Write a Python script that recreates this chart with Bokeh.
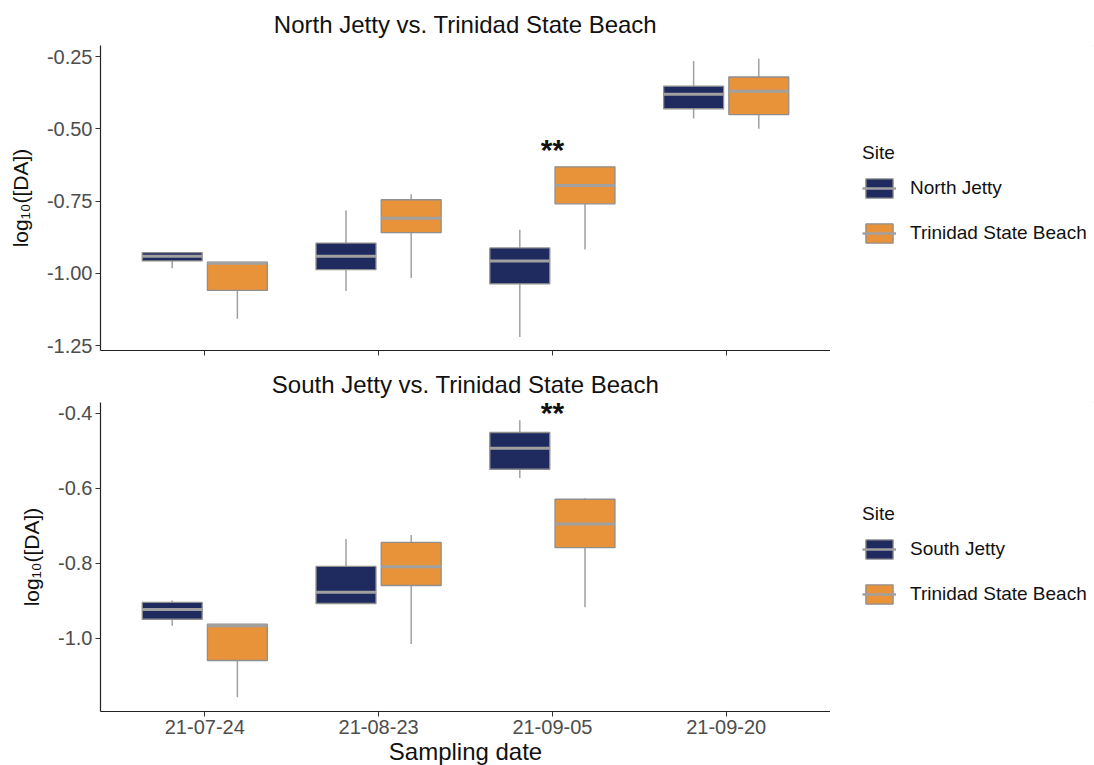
from bokeh.plotting import figure
from bokeh.layouts import column, row
from bokeh.models import (ColumnDataSource, Range1d, FixedTicker, NumeralTickFormatter,
                          Legend, LegendItem)
from bokeh.transform import dodge
from bokeh.core.properties import value
from bokeh.embed import file_html
from bokeh.resources import INLINE

# ---------------- data ----------------
dates = ["21-07-24", "21-08-23", "21-09-05", "21-09-20"]
date_pos = [1, 2, 3, 4]

# top panel: North Jetty vs Trinidad State Beach
nj_lower = [-0.982, -1.061, -1.220, -0.464]
nj_q1 = [-0.957, -0.987, -1.036, -0.430]
nj_med = [-0.941, -0.941, -0.957, -0.380]
nj_q3 = [-0.928, -0.895, -0.912, -0.352]
nj_upper = [-0.928, -0.782, -0.849, -0.265]

tsb_lower = [-1.157, -1.016, -0.917, -0.499]
tsb_q1 = [-1.059, -0.859, -0.759, -0.450]
tsb_med = [-0.965, -0.809, -0.696, -0.369]
tsb_q3 = [-0.961, -0.745, -0.631, -0.320]
tsb_upper = [-0.961, -0.726, -0.631, -0.257]

# bottom panel: South Jetty vs Trinidad State Beach
sj_pos = [1, 2, 3]
sj_lower = [-0.966, -0.907, -0.572]
sj_q1 = [-0.949, -0.907, -0.549]
sj_med = [-0.923, -0.877, -0.493]
sj_q3 = [-0.904, -0.808, -0.451]
sj_upper = [-0.899, -0.735, -0.418]

tsb2_lower = [-1.157, -1.015, -0.917]
tsb2_q1 = [-1.059, -0.859, -0.758]
tsb2_med = [-0.966, -0.809, -0.695]
tsb2_q3 = [-0.962, -0.744, -0.629]
tsb2_upper = [-0.962, -0.724, -0.626]

sig_top_x = [3]
sig_top_y = [-0.571]
sig_bot_x = [3]
sig_bot_y = [-0.397]

top_ticks = [-1.25, -1.00, -0.75, -0.50, -0.25]
bot_ticks = [-1.0, -0.8, -0.6, -0.4]

NAVY = "#1f2a5e"
ORANGE = "#e8923a"
GREY = "#a0a0a0"
FONT = "Liberation Sans"
OFF = 0.1875
BW = 0.345


def style(p, yticks, yfmt, show_xlabels):
    p.xgrid.visible = False
    p.ygrid.visible = False
    p.outline_line_color = None
    p.background_fill_color = "white"
    p.border_fill_color = "white"
    for ax in (p.xaxis[0], p.yaxis[0]):
        ax.axis_line_color = "#222222"
        ax.axis_line_width = 1.2
        ax.major_tick_line_color = "#333333"
        ax.major_tick_out = 5
        ax.major_tick_in = 0
        ax.minor_tick_line_color = None
        ax.major_label_text_font = FONT
        ax.major_label_text_font_size = "20px"
        ax.major_label_text_color = "#4d4d4d"
        ax.axis_label_text_font = FONT
        ax.axis_label_text_font_size = "24px"
        ax.axis_label_text_font_style = "normal"
        ax.axis_label_text_color = "#111111"
    p.yaxis[0].ticker = FixedTicker(ticks=yticks)
    p.yaxis[0].formatter = NumeralTickFormatter(format=yfmt)
    p.yaxis[0].axis_label = "log\u2081\u2080([DA])"
    p.yaxis[0].axis_label_text_font_size = "21px"
    p.yaxis[0].axis_label_standoff = 12
    p.yaxis[0].major_label_standoff = 3
    p.xaxis[0].ticker = FixedTicker(ticks=date_pos)
    if show_xlabels:
        p.xaxis[0].major_label_overrides = {pos: d for pos, d in zip(date_pos, dates)}
        p.xaxis[0].axis_label = "Sampling date"
        p.xaxis[0].major_label_standoff = 3
        p.xaxis[0].axis_label_standoff = 1
    else:
        p.xaxis[0].major_label_overrides = {pos: "" for pos in date_pos}
        p.xaxis[0].major_label_standoff = 0


def add_boxes(p, x, lower, q1, med, q3, upper, offset, color):
    src = ColumnDataSource(dict(x=x, lower=lower, q1=q1, med=med, q3=q3, upper=upper))
    xd = dodge("x", offset)
    p.segment(x0=xd, x1=xd, y0="q3", y1="upper", source=src, line_color=GREY, line_width=1.5)
    p.segment(x0=xd, x1=xd, y0="q1", y1="lower", source=src, line_color=GREY, line_width=1.5)
    p.vbar(x=xd, width=BW, top="q3", bottom="q1", source=src,
           fill_color=color, line_color="#8f8f8f", line_width=1.3)
    p.segment(x0=dodge("x", offset - BW / 2), x1=dodge("x", offset + BW / 2),
              y0="med", y1="med", source=src, line_color=GREY, line_width=3)


def set_title(p, text, standoff):
    p.title.text = text
    p.title.align = "center"
    p.title.text_font = FONT
    p.title.text_font_size = "24px"
    p.title.text_font_style = "normal"
    p.title.text_color = "#111111"
    p.title.standoff = standoff


def legend_fig(frame_h, b_top, b_bottom, labels, colors, y_loc):
    lf = figure(frame_width=264, frame_height=frame_h, output_backend="svg",
                toolbar_location=None, x_range=Range1d(0, 1), y_range=Range1d(0, 1),
                min_border_left=0, min_border_right=0,
                min_border_top=b_top, min_border_bottom=b_bottom)
    lf.xaxis.visible = False
    lf.yaxis.visible = False
    lf.xgrid.visible = False
    lf.ygrid.visible = False
    lf.outline_line_color = None
    items = []
    for lab, col in zip(labels, colors):
        # legend key sources: kept outside the visible range, only the key is shown
        src = ColumnDataSource(dict(x=[10], y0=[10], y1=[11], x0=[10], x1=[11]))
        b = lf.vbar(x="x", width=0.1, top="y1", bottom="y0", source=src,
                    fill_color=col, line_color="#8f8f8f", line_width=1.3)
        m = lf.segment(x0="x0", x1="x1", y0="y0", y1="y0", source=src,
                       line_color=GREY, line_width=2.5)
        items.append(LegendItem(label=lab, renderers=[b, m]))
    leg = Legend(items=items, title="Site", location=(32, y_loc))
    leg.title_text_font = FONT
    leg.title_text_font_size = "19px"
    leg.title_text_font_style = "normal"
    leg.title_text_color = "#111111"
    leg.title_standoff = 12
    leg.label_text_font = FONT
    leg.label_text_font_size = "19px"
    leg.label_text_color = "#111111"
    leg.glyph_width = 34
    leg.glyph_height = 24
    leg.label_height = 24
    leg.label_standoff = 14
    leg.spacing = 21
    leg.padding = 0
    leg.margin = 0
    leg.border_line_color = None
    leg.background_fill_alpha = 0
    lf.add_layout(leg, "center")
    return lf


# ---------------- top figure ----------------
p1 = figure(frame_width=730, frame_height=305, output_backend="svg", toolbar_location=None,
            x_range=Range1d(0.4, 4.6), y_range=Range1d(-1.267, -0.211),
            min_border_left=100, min_border_top=45, min_border_bottom=10, min_border_right=0)
set_title(p1, "North Jetty vs. Trinidad State Beach", 16)
style(p1, top_ticks, "0.00", False)
add_boxes(p1, date_pos, nj_lower, nj_q1, nj_med, nj_q3, nj_upper, -OFF, NAVY)
add_boxes(p1, date_pos, tsb_lower, tsb_q1, tsb_med, tsb_q3, tsb_upper, OFF, ORANGE)
p1.text(x=sig_top_x, y=sig_top_y, text=["**"], text_align="center", text_baseline="middle",
        text_font=value(FONT), text_font_size="30px", text_font_style="bold", text_color="#111111")
l1 = legend_fig(305, 45, 10, ["North Jetty", "Trinidad State Beach"], [NAVY, ORANGE], 105)

# ---------------- bottom figure ----------------
p2 = figure(frame_width=730, frame_height=309, output_backend="svg", toolbar_location=None,
            x_range=Range1d(0.4, 4.6), y_range=Range1d(-1.195, -0.371),
            min_border_left=100, min_border_top=42, min_border_bottom=54, min_border_right=0)
set_title(p2, "South Jetty vs. Trinidad State Beach", 10)
style(p2, bot_ticks, "0.0", True)
add_boxes(p2, sj_pos, sj_lower, sj_q1, sj_med, sj_q3, sj_upper, -OFF, NAVY)
add_boxes(p2, sj_pos, tsb2_lower, tsb2_q1, tsb2_med, tsb2_q3, tsb2_upper, OFF, ORANGE)
p2.text(x=sig_bot_x, y=sig_bot_y, text=["**"], text_align="center", text_baseline="middle",
        text_font=value(FONT), text_font_size="30px", text_font_style="bold", text_color="#111111")
l2 = legend_fig(309, 42, 54, ["South Jetty", "Trinidad State Beach"], [NAVY, ORANGE], 105)

layout = column(row(p1, l1, spacing=0), row(p2, l2, spacing=0), spacing=0)
open("out.html", "w").write(file_html(layout, INLINE))
